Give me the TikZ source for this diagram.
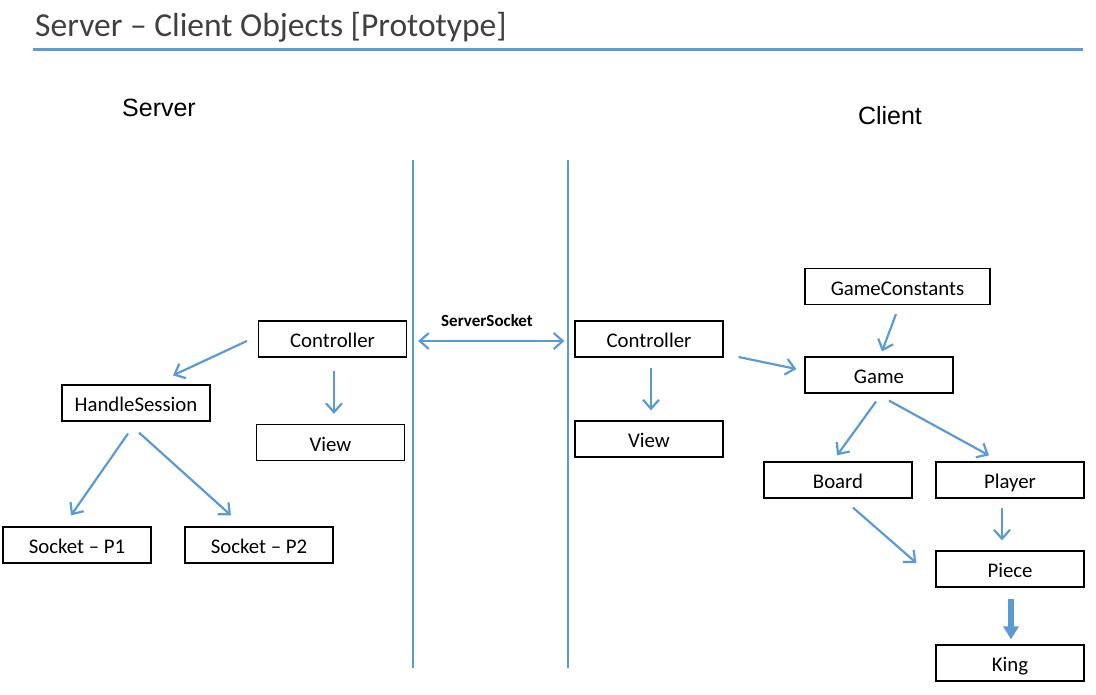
\documentclass[tikz,border=0pt]{standalone}
\usepackage{fontspec}
\setmainfont{Carlito}
\newfontfamily\headfont{Liberation Sans}
\usetikzlibrary{arrows.meta, calc}
\definecolor{linkblue}{RGB}{91,155,213}
\definecolor{titlegray}{RGB}{64,64,64}

\begin{document}
\begin{tikzpicture}[x=1pt, y=-1pt,
    box/.style={draw=black, line width=1.2pt, minimum width=148pt, minimum height=36pt,
      inner sep=0pt, text height=17.5pt, text depth=0pt, font=\fontsize{20.8}{21}\selectfont},
    link/.style={linkblue, line width=2.2pt, -{Straight Barb[length=9pt, width=16pt]}},
    duplex/.style={linkblue, line width=2.2pt,
      {Straight Barb[length=9pt, width=16pt]}-{Straight Barb[length=9pt, width=16pt]}},
    heavylink/.style={linkblue, line width=5.5pt, -{Triangle[length=13pt, width=15pt]}},
    divider/.style={linkblue, line width=1.2pt}]
      \useasboundingbox (0, 0) rectangle (1096, 695);

      % title and rule
      \node[anchor=base west, inner sep=0pt, text=titlegray, font=\fontsize{33.5}{34}\selectfont] (title) at (35, 37) {Server -- Client Objects [Prototype]};
      \draw[linkblue, line width=3pt] (33, 50) -- (1083, 50);

      \node[font=\headfont\fontsize{25}{25}\selectfont] (srvhead) at (159, 108) {Server};
      \node[font=\headfont\fontsize{25}{25}\selectfont] (clihead) at (890, 116) {Client};

      % the two dividers
      \draw[divider] (413, 160) -- (413, 668);
      \draw[divider] (568, 160) -- (568, 668);

      % server side
      \node[box] (ctrlS) at (332.5, 339) {Controller};
      \node[box] (viewS) at (330.5, 442.5) {View};
      \node[box] (session) at (136, 403) {HandleSession};
      \node[box] (sockA) at (77, 545) {Socket -- P1};
      \node[box] (sockB) at (259, 545) {Socket -- P2};

      % client side
      \node[box] (ctrlC) at (649, 339) {Controller};
      \node[box] (viewC) at (649, 439) {View};
      \node[box, minimum width=185pt] (consts) at (897.5, 286.5) {GameConstants};
      \node[box] (game) at (879, 375) {Game};
      \node[box] (board) at (838, 480) {Board};
      \node[box] (player) at (1010, 480) {Player};
      \node[box] (piece) at (1010, 569) {Piece};
      \node[box] (king) at (1010, 663) {King};

      \node[font=\bfseries\fontsize{17}{17}\selectfont] (socklabel) at (487, 321) {ServerSocket};

      \draw[link] ($(ctrlS.west)+(-11, 2)$) -- ($(session.north)+(37, -9)$);
      \draw[link] ($(ctrlS.south)+(1.5, 13)$) -- ($(viewS.north)+(3.5, -10)$);
      \draw[link] ($(session.south)+(-8, 12)$) -- ($(sockA.north)+(-6, -11)$);
      \draw[link] ($(session.south)+(3, 11)$) -- ($(sockB.north)+(-28, -11)$);
      \draw[duplex] ($(ctrlS.east)+(11, 2)$) -- ($(ctrlC.west)+(-10, 2)$);

      \draw[link] ($(ctrlC.south)+(2, 10)$) -- ($(viewC.north)+(2, -10)$);
      \draw[link] ($(ctrlC.east)+(15, 18)$) -- ($(game.west)+(-8, -6)$);
      \draw[link] ($(consts.south)+(-1.5, 9)$) -- ($(game.north)+(3, -5)$);
      \draw[link] ($(game.south)+(-3, 8)$) -- ($(board.north)+(-1, -6)$);
      \draw[link] ($(game.south)+(10, 7)$) -- ($(player.north)+(-21, -6)$);
      \draw[link] ($(player.south)+(-8, 9)$) -- ($(piece.north)+(-8, -10)$);
      \draw[link] ($(board.south)+(15, 9)$) -- ($(piece.west)+(-19, -6)$);
      \draw[heavylink] ($(piece.south)+(1, 11)$) -- ($(king.north)+(1, -5)$);
    \end{tikzpicture}
\end{document}
